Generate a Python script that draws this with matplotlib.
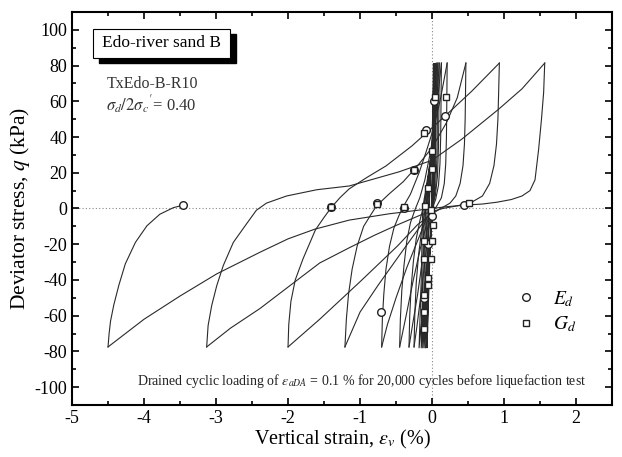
import matplotlib
matplotlib.use("Agg")
import matplotlib.pyplot as plt
from matplotlib.patches import Rectangle
from matplotlib.ticker import MultipleLocator

plt.rcParams["font.family"] = ["Liberation Serif", "DejaVu Serif"]
plt.rcParams["mathtext.fontset"] = "stix"
plt.rcParams["axes.unicode_minus"] = False

# pre-liquefaction cycles (dense column near zero strain)
pre_eps = [0.0, 0.02, 0.015, -0.01, -0.04, -0.07, -0.05, -0.04, 0.0, 0.03, 0.025, 0.0,
           -0.05, -0.09, -0.07, -0.05, 0.01, 0.035, 0.03, 0.01, -0.06, -0.11, -0.09,
           -0.07, 0.015, 0.04, 0.035, 0.015, -0.07, -0.13, -0.11, -0.09, 0.02, 0.045,
           0.04, 0.02, -0.08, -0.15, -0.13, -0.11, 0.02, 0.05, 0.045, 0.02, -0.09,
           -0.18, -0.15, -0.13, 0.03, 0.06]
pre_q = [0, 81, 40, 0, -40, -78, -40, 0, 40, 81, 40, 0,
         -40, -78, -40, 0, 40, 81, 40, 0, -40, -78, -40,
         0, 40, 81, 40, 0, -40, -78, -40, 0, 40, 81,
         40, 0, -40, -78, -40, 0, 40, 81, 40, 0, -40,
         -78, -40, 0, 40, 81]

# unloading from compression peak, then loading to extension peak
f0_eps = [0.06, 0.055, 0.05, 0.03, 0.0, -0.05, -0.1, -0.16, -0.21, -0.25]
f0_q = [81.4, 50, 25, 8, 0, -12, -30, -50, -66, -77.5]
f1_eps = [0.08, 0.075, 0.07, 0.05, 0.01, -0.05, -0.12, -0.2, -0.27, -0.32]
f1_q = [81.4, 55, 30, 12, 2, -8, -25, -48, -65, -77.5]
f2_eps = [0.10, 0.095, 0.09, 0.075, 0.045, 0.0, -0.07, -0.16, -0.26, -0.36, -0.45]
f2_q = [81.4, 55, 35, 18, 7, 1, -8, -22, -40, -60, -77.5]
f3_eps = [0.13, 0.125, 0.12, 0.11, 0.09, 0.05, 0.0, -0.08, -0.2, -0.35, -0.5, -0.62, -0.70]
f3_q = [81.4, 60, 40, 25, 13, 5, 0, -6, -18, -33, -50, -65, -77.5]
f4_eps = [0.21, 0.205, 0.2, 0.19, 0.17, 0.13, 0.06, -0.05, -0.2, -0.45, -0.75, -1.0, -1.21]
f4_q = [81.4, 60, 40, 25, 14, 6, 1, -4, -12, -26, -43, -58, -77.5]
f5_eps = [0.47, 0.465, 0.46, 0.45, 0.43, 0.39, 0.33, 0.25, 0.12, 0.0, -0.2, -0.48, -1.0, -1.56, -2.0]
f5_q = [81.4, 65, 50, 36, 24, 14, 7, 3, 0, -3, -9, -21, -41, -62, -77.5]
f6_eps = [0.935, 0.925, 0.915, 0.895, 0.86, 0.8, 0.7, 0.55, 0.35, 0.15, -0.15, -0.5, -0.8,
          -1.15, -1.56, -2.0, -2.39, -2.8, -3.13]
f6_q = [81.4, 65, 50, 36, 24, 14, 7, 3.5, 1.5, 0, -3.5, -9.5, -15,
        -22, -30.5, -44, -56, -67, -77.5]
f7_eps = [1.565, 1.55, 1.52, 1.48, 1.43, 1.36, 1.25, 1.1, 0.9, 0.7, 0.5, 0.2, -0.2, -0.6,
          -1.15, -1.63, -2.0, -2.39, -2.99, -3.5, -4.0, -4.5]
f7_q = [81.4, 65, 50, 33, 16, 10, 7, 5, 3.5, 2.5, 2, 1, -1, -3,
        -6.5, -11.6, -17, -24.5, -36.6, -49, -62, -77.5]

# unloading from extension peak, then loading to compression peak
r0_eps = [-0.25, -0.24, -0.22, -0.19, -0.15, -0.11, -0.07, -0.03, 0.01, 0.05, 0.08]
r0_q = [-77.5, -60, -42, -27, -14, -4, 5, 18, 35, 58, 81.4]
r1_eps = [-0.32, -0.31, -0.29, -0.26, -0.22, -0.17, -0.12, -0.07, -0.02, 0.03, 0.07, 0.10]
r1_q = [-77.5, -60, -44, -30, -17, -7, 1, 10, 24, 42, 62, 81.4]
r2_eps = [-0.45, -0.44, -0.42, -0.39, -0.35, -0.3, -0.24, -0.17, -0.1, -0.03, 0.03, 0.08, 0.13]
r2_q = [-77.5, -62, -46, -32, -18, -8, -1, 6, 16, 30, 45, 62, 81.4]
r3_eps = [-0.70, -0.69, -0.67, -0.64, -0.59, -0.53, -0.46, -0.40, -0.3, -0.18, -0.08, 0.03, 0.12, 0.21]
r3_q = [-77.5, -62, -48, -34, -21, -11, -4, 1, 8, 20, 32, 46, 62, 81.4]
r4_eps = [-1.21, -1.19, -1.16, -1.11, -1.04, -0.95, -0.85, -0.77, -0.6, -0.4, -0.2, 0.0, 0.2, 0.35, 0.47]
r4_q = [-77.5, -62, -48, -34, -21, -10, -3.5, 1.5, 8, 15, 24, 34, 48, 62, 81.4]
r5_eps = [-2.0, -1.99, -1.96, -1.9, -1.79, -1.62, -1.5, -1.4, -1.28, -1.15, -0.9, -0.64,
          -0.28, 0.18, 0.55, 0.935]
r5_q = [-77.5, -65, -52, -40, -28, -12, -5, 0.5, 6, 11, 17.5, 23.8,
        35, 51.7, 65.6, 81.4]
r6_eps = [-3.13, -3.11, -3.06, -2.99, -2.9, -2.76, -2.58, -2.44, -2.3, -2.02, -1.6, -1.15,
          -0.46, 0.0, 0.41, 0.92, 1.25, 1.565]
r6_q = [-77.5, -65.5, -54.3, -43.2, -32, -19, -8.8, -1, 3, 7, 10.5, 12.6,
        20.5, 27, 38.7, 55.4, 67, 81.4]
r7_eps = [-4.5, -4.485, -4.465, -4.42, -4.35, -4.26, -4.12, -3.96, -3.78, -3.59, -3.46]
r7_q = [-77.5, -70, -63, -54, -43, -31, -19, -9.7, -3.2, 0.5, 1.8]

# measurement points
ed_eps = [-3.46, -1.40, -0.77, -0.39, -0.25, 0.44, -0.71, -0.09, 0.185, 0.03, -0.05, -0.11, 0.0]
ed_q = [1.8, 0.8, 2.8, 0.5, 21.5, 1.8, -57.7, 44.2, 52, 60, -20, -50, -4]
gd_eps = [-1.40, -0.77, -0.39, -0.25, 0.51, -0.105, 0.04, 0.19, 0.0, 0.0, -0.05, 0.01,
          -0.115, 0.0, -0.115, -0.01, -0.05, -0.055, -0.115, -0.115, -0.115, -0.1, -0.02]
gd_q = [0.8, 2.4, 1.1, 21.5, 3.0, 42.4, 62.4, 62.4, 32, 22, 11.7, -9.3,
        -18.4, -18, -28.3, -28.3, -38.9, -42.8, -48.7, -57.7, -67.3, 1.5, -1]

branches = [
    (pre_eps, pre_q), (f0_eps, f0_q), (r0_eps, r0_q), (f1_eps, f1_q), (r1_eps, r1_q),
    (f2_eps, f2_q), (r2_eps, r2_q), (f3_eps, f3_q), (r3_eps, r3_q), (f4_eps, f4_q),
    (r4_eps, r4_q), (f5_eps, f5_q), (r5_eps, r5_q), (f6_eps, f6_q), (r6_eps, r6_q),
    (f7_eps, f7_q), (r7_eps, r7_q),
]

fig = plt.figure(figsize=(6.22, 4.57), dpi=100)
ax = fig.add_axes([0.1158, 0.1138, 0.8682, 0.86])

ax.axhline(0, color="#888888", lw=0.8, ls=(0, (1, 2)), zorder=1)
ax.axvline(0, color="#888888", lw=0.8, ls=(0, (1, 2)), zorder=1)

for eps, q in branches:
    ax.plot(eps, q, color="#2a2a2a", lw=0.8, zorder=2)

ax.plot(ed_eps, ed_q, ls="none", marker="o", ms=5.5, mfc="white", mec="#222222",
        mew=1.0, zorder=4, label="$E_d$")
ax.plot(gd_eps, gd_q, ls="none", marker="s", ms=5, mfc="white", mec="#222222",
        mew=1.0, zorder=4, label="$G_d$")

ax.set_xlim(-5, 2.5)
ax.set_ylim(-110, 110)
ax.xaxis.set_minor_locator(MultipleLocator(0.5))
ax.yaxis.set_minor_locator(MultipleLocator(10))
ax.set_xticks(range(-5, 3))
ax.set_yticks(range(-100, 101, 20))
ax.tick_params(which="both", direction="in", top=True, right=True, labelsize=13, width=1.2)
ax.tick_params(which="major", length=5)
ax.tick_params(which="minor", length=3)
for sp in ax.spines.values():
    sp.set_linewidth(1.5)

ax.set_xlabel(r"Vertical strain, $\varepsilon_v$ (%)", fontsize=14.5, labelpad=1)
ax.set_ylabel(r"Deviator stress, $q$ (kPa)", fontsize=15.5, labelpad=2)

ax.legend(loc="upper left", bbox_to_anchor=(0.79, 0.34), frameon=False,
          fontsize=14, handlelength=1.0, handletextpad=0.9, labelspacing=0.3)

# title box with a drop shadow
ax.add_patch(Rectangle((0.050, 0.870), 0.254, 0.074, transform=ax.transAxes,
                       fc="black", ec="black", zorder=5, clip_on=False))
ax.add_patch(Rectangle((0.039, 0.883), 0.254, 0.074, transform=ax.transAxes,
                       fc="white", ec="black", lw=0.8, zorder=6, clip_on=False))
ax.text(0.166, 0.920, "Edo-river sand B", transform=ax.transAxes, fontsize=12.5,
        ha="center", va="center", zorder=7)
ax.text(0.065, 0.817, "TxEdo-B-R10", transform=ax.transAxes, fontsize=11.5, va="center",
        color="#333333")
ax.text(0.063, 0.765, r"$\sigma_d/2\sigma_c{}'$= 0.40", transform=ax.transAxes,
        fontsize=12, va="center", color="#333333")
ax.text(0.12, 0.061,
        r"Drained cyclic loading of $\varepsilon_{aDA}$ = 0.1 % for 20,000 cycles before liquefaction test",
        transform=ax.transAxes, fontsize=10, va="center", color="#222222")

fig.savefig("out.png", dpi=100)
